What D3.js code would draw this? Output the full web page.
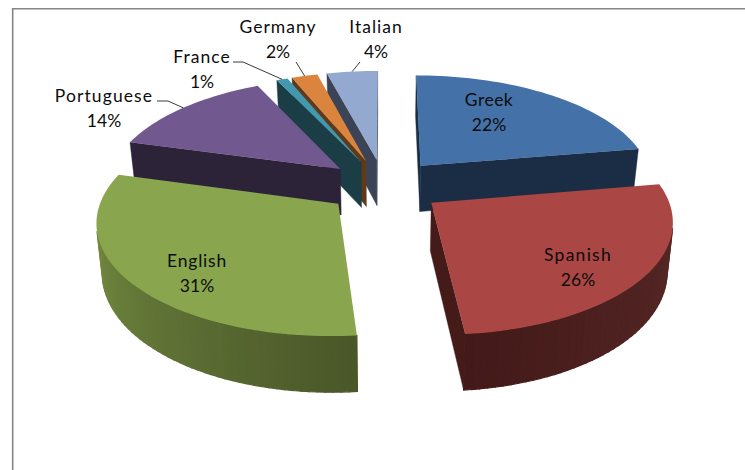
<!DOCTYPE html>
<html><head><meta charset="utf-8">
<style>html,body{margin:0;padding:0;background:#fff;overflow:hidden}svg{display:block}
text{font-family:Lato,"Open Sans",sans-serif;font-size:17.5px;fill:#0c0c0c;text-anchor:middle}</style>
<script src="https://cdn.jsdelivr.net/npm/d3@7/dist/d3.min.js"></script>
</head><body><script>
const categories = ["Greek","Spanish","English","Portuguese","France","Germany","Italian"];
const shares = [22.3,26.2,30.8,13.6,0.9,2.1,4.1];
const topColors = ["#4472A8","#AA4643","#89A54E","#71588F","#4198AF","#DB843D","#93A9CF"];
const sideColors = ["#1B2D45","#451B1A","#2D2339","#2D2339","#1A3D46","#5E3A1A","#3B4456"];
const wallFrom = ["#1B2D45","#5C2C2A","#4A5729","#2D2339","#1A3D46","#5E3A1A","#3B4456"];
const wallTo = ["#1B2D45","#431A19","#7F9A47","#2D2339","#1A3D46","#5E3A1A","#3B4456"];
const labelX = [489,578,197,104,202,278,376];
const labelY = [106,261,267,102,63,33,33];
const spacing = [0.5,1.25,0.8,1.1,1,1,1];
const leaderElbow = [null,null,null,[[157,101],[168,101]],[[233,62],[243,62]],[[296,62]],[[360,62]]];

const W=745,H=470,cx=384,cy=186,B=233,A=108.3,p=0.14,e=0.25,depth=47,shrink=0.98;
const sx=d3.scaleLinear().domain([-1,1]).range([cx-B,cx+B]);
const sy=d3.scaleLinear().domain([-1,1]).range([cy-A,cy+A]);
const proj=(X,Y)=>{const k=1/(1-p*Y);return [sx(X*k),sy(Y*k)];};
const below=(pt,Y)=>[cx+(pt[0]-cx)*shrink,pt[1]+depth/(1-p*Y)];

const svg=d3.select("body").append("svg").attr("width",W).attr("height",H);
svg.append("path").attr("d",`M${W},8.7H12.7V${H}`).attr("fill","none").attr("stroke","#868686").attr("stroke-width",1.6);

const pie=d3.pie().sort(null).value(d=>d)(shares);
const line=d3.line();
const slices=pie.map((d,i)=>{
  const mid=(d.startAngle+d.endAngle)/2;
  return {i,start:d.startAngle,end:d.endAngle,mid,ox:e*Math.sin(mid),oy:-e*Math.cos(mid)};
});
const rim=(s,a)=>{const X=s.ox+Math.sin(a),Y=s.oy-Math.cos(a);return {pt:proj(X,Y),Y};};
const area=q=>d3.polygonArea(q);
const g=svg.append("g");
slices.slice().sort((a,b)=>a.oy-b.oy).forEach(s=>{
  const n=Math.max(4,Math.ceil((s.end-s.start)/0.03));
  const angles=d3.range(n+1).map(k=>s.start+(s.end-s.start)*k/n);
  const ap=proj(s.ox,s.oy);
  const rims=angles.map(a=>rim(s,a));
  const wall=(a,ay,b,by)=>[a,b,below(b,by),below(a,ay)];
  const wc=d3.scaleLinear().domain([s.start,s.end]).range([wallFrom[s.i],wallTo[s.i]]);
  for(let k=0;k<n;k++){
    const q=wall(rims[k].pt,rims[k].Y,rims[k+1].pt,rims[k+1].Y);
    if(area(q)>0){const c=wc(angles[k]);
      g.append("path").attr("d",line(q)+"Z").attr("fill",c).attr("stroke",c).attr("stroke-width",1.2);}
  }
  [[ap,s.oy,rims[0].pt,rims[0].Y],[rims[n].pt,rims[n].Y,ap,s.oy]].forEach(f=>{
    const q=wall(f[0],f[1],f[2],f[3]);
    if(area(q)>0) g.append("path").attr("d",line(q)+"Z").attr("fill",sideColors[s.i]).attr("stroke",sideColors[s.i]).attr("stroke-width",0.4);
  });
  g.append("path").attr("d",line([ap,...rims.map(r=>r.pt)])+"Z").attr("fill",topColors[s.i]);
});

slices.forEach(s=>{
  if(leaderElbow[s.i]){
    const end=rim(s,s.mid).pt;
    svg.append("path").attr("d",line([...leaderElbow[s.i],end])).attr("fill","none").attr("stroke","#3a3a3a").attr("stroke-width",1);
  }
  const t=svg.append("text");
  t.append("tspan").attr("x",labelX[s.i]).attr("y",labelY[s.i]).attr("style",`letter-spacing:${spacing[s.i]}px`).text(categories[s.i]);
  t.append("tspan").attr("x",labelX[s.i]).attr("y",labelY[s.i]+25).text(Math.round(shares[s.i])+"%");
});
</script></body></html>
